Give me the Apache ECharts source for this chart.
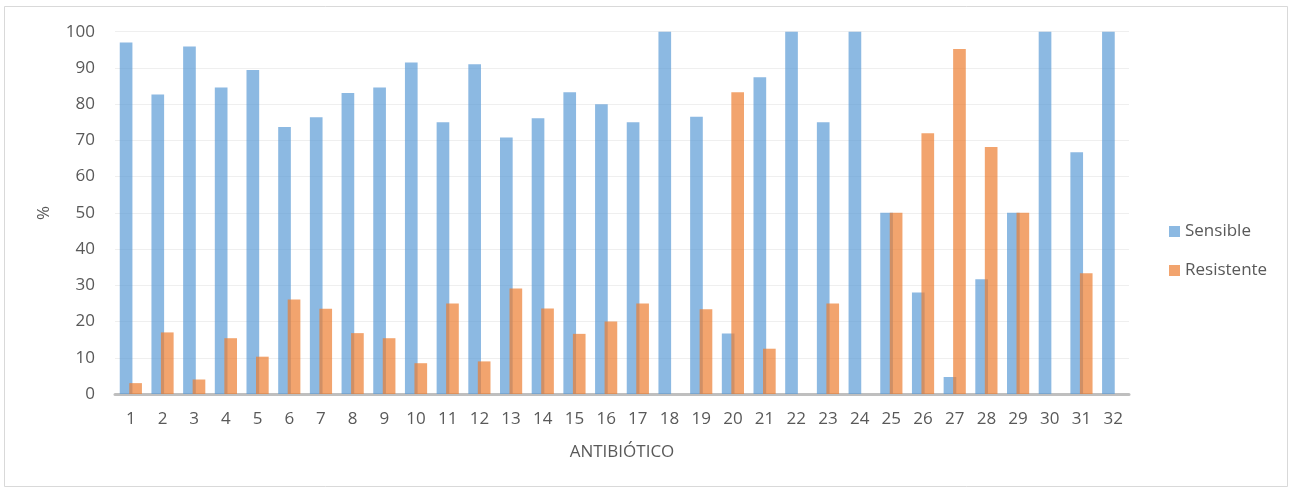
<!DOCTYPE html>
<html>
<head>
<meta charset="utf-8">
<script src="https://cdn.jsdelivr.net/npm/echarts@6/dist/echarts.min.js"></script>
<style>
html,body{margin:0;padding:0;background:#fff;}
#c{width:1290px;height:489px;}
</style>
</head>
<body>
<div id="c"></div>
<script>
const categories = ['1','2','3','4','5','6','7','8','9','10','11','12','13','14','15','16','17','18','19','20','21','22','23','24','25','26','27','28','29','30','31','32'];
const sensible = [97, 82.7, 95.9, 84.6, 89.4, 73.7, 76.4, 83.1, 84.6, 91.5, 75, 91, 70.8, 76.1, 83.3, 80, 75, 100, 76.5, 16.7, 87.4, 100, 75, 100, 50, 28, 4.7, 31.7, 50, 100, 66.7, 100];
const resistente = [3, 17, 4, 15.4, 10.3, 26.1, 23.5, 16.8, 15.4, 8.5, 25, 9, 29.1, 23.6, 16.6, 20, 25, 0, 23.4, 83.3, 12.5, 0, 25, 0, 50, 72, 95.2, 68.2, 50, 0, 33.3, 0];
const seriesNames = ['Sensible', 'Resistente'];
const yTicks = [0, 10, 20, 30, 40, 50, 60, 70, 80, 90, 100];

const chart = echarts.init(document.getElementById('c'), null, {renderer: 'canvas'});
const font = '"Open Sans", "DejaVu Sans", sans-serif';
chart.setOption({
  backgroundColor: '#ffffff',
  animation: false,
  graphic: [{
    type: 'rect',
    shape: {x: 4.5, y: 6.5, width: 1283, height: 480},
    style: {fill: 'none', stroke: '#d9d9d9', lineWidth: 1},
    silent: true
  }],
  grid: {left: 115, right: 161, top: 31.7, bottom: 95, containLabel: false},
  legend: {
    orient: 'vertical',
    left: 1164,
    top: 218,
    itemWidth: 11,
    itemHeight: 11,
    itemGap: 22,
    icon: 'rect',
    textStyle: {fontFamily: font, fontSize: 17, color: '#595959'},
    data: seriesNames
  },
  xAxis: {
    type: 'category',
    data: categories,
    name: 'ANTIBIÓTICO',
    nameLocation: 'middle',
    nameGap: 50,
    nameTextStyle: {fontFamily: font, fontSize: 17, color: '#595959'},
    axisLine: {lineStyle: {color: '#bfbfbf', width: 3}},
    axisTick: {show: false},
    axisLabel: {fontFamily: font, fontSize: 17, color: '#595959', margin: 17, interval: 0}
  },
  yAxis: {
    type: 'value',
    min: yTicks[0],
    max: yTicks[yTicks.length - 1],
    interval: 10,
    name: '%',
    nameLocation: 'middle',
    nameGap: 62,
    nameRotate: 90,
    nameTextStyle: {fontFamily: font, fontSize: 17, color: '#595959'},
    axisLine: {show: false},
    axisTick: {show: false},
    axisLabel: {fontFamily: font, fontSize: 17, color: '#595959', margin: 20},
    splitLine: {lineStyle: {color: '#efefef', width: 1}}
  },
  series: [
    {
      name: seriesNames[0], type: 'bar', data: sensible,
      barCategoryGap: '30%', barGap: '-25%',
      itemStyle: {color: 'rgba(91,155,213,0.7)'}
    },
    {
      name: seriesNames[1], type: 'bar', data: resistente,
      barCategoryGap: '30%', barGap: '-25%',
      itemStyle: {color: 'rgba(237,125,49,0.7)'}
    }
  ]
});
</script>
</body>
</html>
